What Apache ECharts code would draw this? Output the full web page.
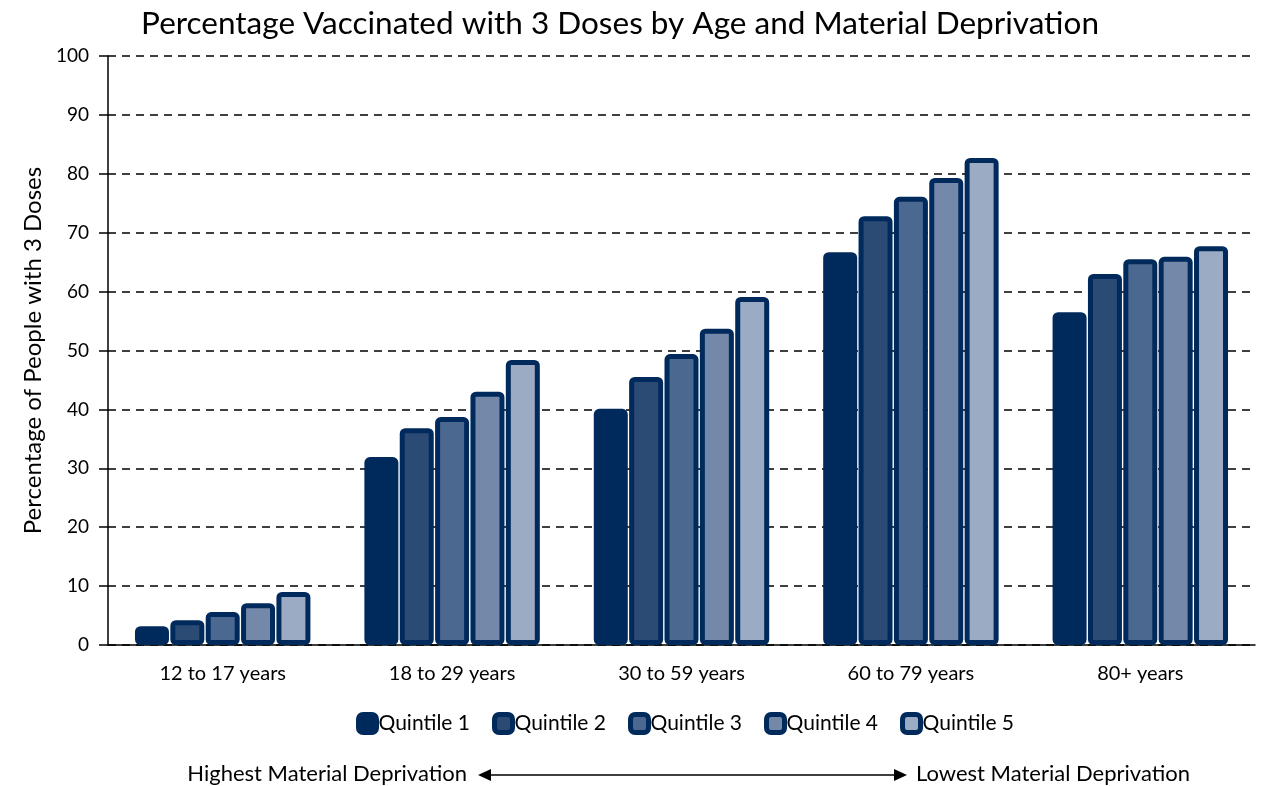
<!DOCTYPE html>
<html>
<head>
<meta charset="utf-8">
<script src="https://cdn.jsdelivr.net/npm/echarts@6/dist/echarts.min.js"></script>
<style>
html,body{margin:0;padding:0;background:#fff;}
#chart{width:1266px;height:786px;}
</style>
</head>
<body>
<div id="chart"></div>
<script>
const categories = ['12 to 17 years', '18 to 29 years', '30 to 59 years', '60 to 79 years', '80+ years'];
const seriesNames = ['Quintile 1', 'Quintile 2', 'Quintile 3', 'Quintile 4', 'Quintile 5'];
const quintile1 = [3.2, 31.9, 40.1, 66.7, 56.5];
const quintile2 = [4.2, 36.8, 45.5, 72.8, 63.0];
const quintile3 = [5.6, 38.7, 49.4, 76.1, 65.5];
const quintile4 = [7.1, 43.0, 53.7, 79.3, 65.9];
const quintile5 = [9.0, 48.4, 59.1, 82.7, 67.7];
const yTicks = { min: 0, max: 100, interval: 10 };

const fills = ['#002a5c', '#2b4a74', '#4b6890', '#7489a9', '#9babc3'];
const borderCol = '#002a5c';
const font = 'Lato, "Open Sans", sans-serif';
const allData = [quintile1, quintile2, quintile3, quintile4, quintile5];

const chart = echarts.init(document.getElementById('chart'));
chart.setOption({
  animation: false,
  backgroundColor: '#fff',
  title: {
    text: 'Percentage Vaccinated with 3 Doses by Age and Material Deprivation',
    left: 615, textAlign: 'center', top: 3,
    textStyle: { fontFamily: font, fontSize: 31.5, fontWeight: 'normal', color: '#000' }
  },
  grid: { left: 108, right: 11, top: 56, bottom: 141, containLabel: false },
  legend: {
    left: 351, top: 707,
    itemWidth: 18, itemHeight: 18, itemGap: 22,
    icon: 'roundRect',
    textStyle: { fontFamily: font, fontSize: 21, color: '#000', padding: [0, 0, 0, -3] },
    itemStyle: { borderWidth: 5, borderColor: borderCol },
    data: seriesNames
  },
  xAxis: {
    type: 'category', data: categories,
    axisLine: { lineStyle: { color: '#000', width: 1.5 } },
    axisTick: { show: false },
    axisLabel: { fontFamily: font, fontSize: 20, color: '#000', margin: 19 }
  },
  yAxis: {
    type: 'value', min: yTicks.min, max: yTicks.max, interval: yTicks.interval,
    name: 'Percentage of People with 3 Doses', nameLocation: 'middle', nameGap: 63,
    nameTextStyle: { fontFamily: font, fontSize: 24, color: '#000' },
    axisLine: { show: true, lineStyle: { color: '#000', width: 1.5 } },
    axisTick: { show: true, length: 9, lineStyle: { color: '#000', width: 1.5 } },
    axisLabel: { fontFamily: font, fontSize: 19, color: '#000', margin: 19 },
    splitLine: { lineStyle: { color: '#000', type: [8, 6], width: 1.5 } }
  },
  series: seriesNames.map((n, i) => ({
    name: n, type: 'bar', data: allData[i],
    barWidth: 34, barGap: '4%',
    itemStyle: { color: fills[i], borderColor: borderCol, borderWidth: 5, borderRadius: 3 }
  })),
  graphic: [
    { type: 'text', right: 1266 - 467, top: 763,
      style: { text: 'Highest Material Deprivation', font: '22px ' + font, fill: '#000' } },
    { type: 'text', left: 916, top: 763,
      style: { text: 'Lowest Material Deprivation', font: '22px ' + font, fill: '#000' } },
    { type: 'line', shape: { x1: 488, y1: 775, x2: 897, y2: 775 }, style: { stroke: '#000', lineWidth: 1.5 } },
    { type: 'polygon', shape: { points: [[478, 775], [491, 769], [491, 781]] }, style: { fill: '#000' } },
    { type: 'polygon', shape: { points: [[907, 775], [894, 769], [894, 781]] }, style: { fill: '#000' } }
  ]
});
</script>
</body>
</html>
